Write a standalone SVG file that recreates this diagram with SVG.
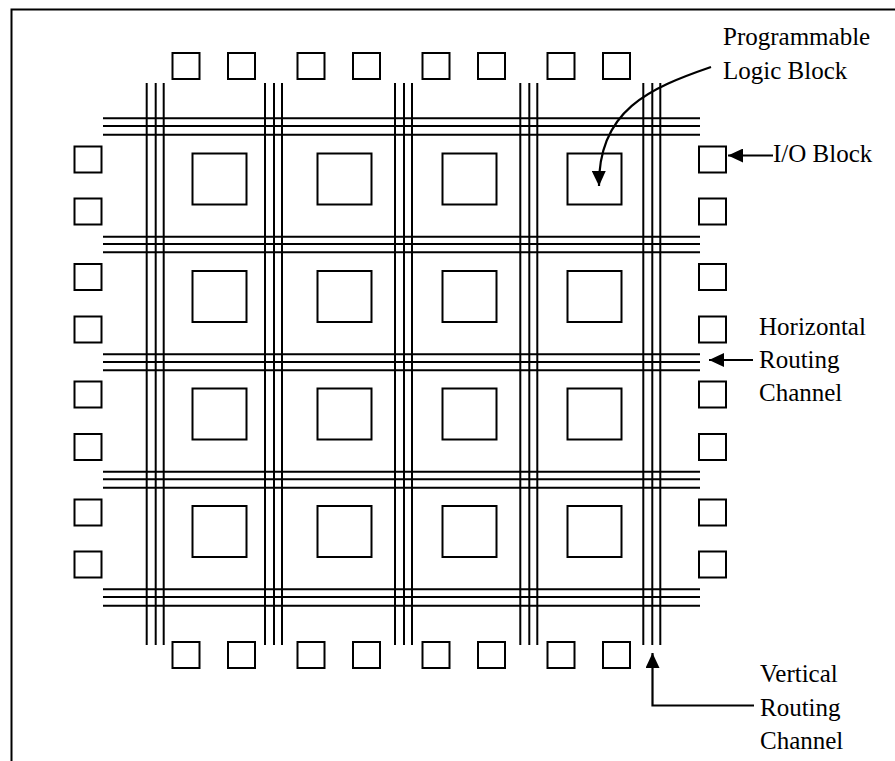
<svg xmlns="http://www.w3.org/2000/svg" width="895" height="761" viewBox="0 0 895 761">
<style>
.b{fill:none;stroke:#000;stroke-width:2}
.ch{stroke:#000;stroke-width:2;fill:none}
.t{font-family:"Liberation Serif","Times New Roman",serif;font-size:25px;fill:#000}
.c{fill:none;stroke:#000;stroke-width:2.2}
</style>
<defs>
<marker id="ah" markerUnits="userSpaceOnUse" markerWidth="16" markerHeight="14" refX="15" refY="7" orient="auto">
<path d="M0,0 L15,7 L0,14 z" fill="#000"/>
</marker>
<rect id="io" width="27" height="26" class="b"/>
<rect id="lb" width="54" height="51" class="b"/>
</defs>
<rect width="895" height="761" fill="#fff"/>
<path d="M11.5,761 V9.5 H895" class="b"/>
<g id="routing">
<g id="vertical-channels">
<path class="ch" d="M146.7,83 V645 M155.7,83 V645 M163.7,83 V645 M265,83 V645 M274,83 V645 M282,83 V645 M395,83 V645 M404,83 V645 M412,83 V645 M520.3,83 V645 M529.3,83 V645 M537.3,83 V645 M643.3,83 V645 M652.3,83 V645 M660.3,83 V645"/>
</g>
<g id="horizontal-channels">
<path class="ch" d="M103,118.3 H700 M103,126 H700 M103,134.7 H700 M103,236.7 H700 M103,244 H700 M103,252.3 H700 M103,354.3 H700 M103,362 H700 M103,370.3 H700 M103,471.7 H700 M103,479.3 H700 M103,487.7 H700 M103,589.3 H700 M103,597 H700 M103,605.7 H700"/>
</g>
</g>
<g id="io-top">
<use href="#io" x="172.5" y="53"/><use href="#io" x="228" y="53"/><use href="#io" x="297.5" y="53"/><use href="#io" x="353" y="53"/><use href="#io" x="422.5" y="53"/><use href="#io" x="478" y="53"/><use href="#io" x="547.5" y="53"/><use href="#io" x="603" y="53"/>
</g>
<g id="io-bottom">
<use href="#io" x="172.5" y="642"/><use href="#io" x="228" y="642"/><use href="#io" x="297.5" y="642"/><use href="#io" x="353" y="642"/><use href="#io" x="422.5" y="642"/><use href="#io" x="478" y="642"/><use href="#io" x="547.5" y="642"/><use href="#io" x="603" y="642"/>
</g>
<g id="io-left">
<use href="#io" x="74.5" y="146.5"/><use href="#io" x="74.5" y="198.5"/><use href="#io" x="74.5" y="264"/><use href="#io" x="74.5" y="316.5"/><use href="#io" x="74.5" y="381.5"/><use href="#io" x="74.5" y="434"/><use href="#io" x="74.5" y="499.5"/><use href="#io" x="74.5" y="551.5"/>
</g>
<g id="io-right">
<use href="#io" x="699" y="146.5"/><use href="#io" x="699" y="198.5"/><use href="#io" x="699" y="264"/><use href="#io" x="699" y="316.5"/><use href="#io" x="699" y="381.5"/><use href="#io" x="699" y="434"/><use href="#io" x="699" y="499.5"/><use href="#io" x="699" y="551.5"/>
</g>
<g id="logic-blocks">
<use href="#lb" x="192.5" y="153.5"/><use href="#lb" x="317.5" y="153.5"/><use href="#lb" x="442.5" y="153.5"/><use href="#lb" x="567.5" y="153.5"/>
<use href="#lb" x="192.5" y="271"/><use href="#lb" x="317.5" y="271"/><use href="#lb" x="442.5" y="271"/><use href="#lb" x="567.5" y="271"/>
<use href="#lb" x="192.5" y="388.5"/><use href="#lb" x="317.5" y="388.5"/><use href="#lb" x="442.5" y="388.5"/><use href="#lb" x="567.5" y="388.5"/>
<use href="#lb" x="192.5" y="506"/><use href="#lb" x="317.5" y="506"/><use href="#lb" x="442.5" y="506"/><use href="#lb" x="567.5" y="506"/>
</g>
<g id="connectors">
<path class="c" d="M711,67 C650,88 598,110 599,186" marker-end="url(#ah)"/>
<path class="c" d="M773,155.5 H728" marker-end="url(#ah)"/>
<path class="c" d="M753,360 H709" marker-end="url(#ah)"/>
<path class="c" d="M754,705.5 H652.5 V653" marker-end="url(#ah)"/>
</g>
<g id="label-plb"><text class="t" x="723" y="45">Programmable</text><text class="t" x="723" y="79">Logic Block</text></g>
<g id="label-io"><text class="t" x="773" y="162">I/O Block</text></g>
<g id="label-hrc"><text class="t" x="759" y="335">Horizontal</text><text class="t" x="759" y="368">Routing</text><text class="t" x="759" y="401">Channel</text></g>
<g id="label-vrc"><text class="t" x="760" y="682">Vertical</text><text class="t" x="760" y="716">Routing</text><text class="t" x="760" y="748.5">Channel</text></g>
</svg>
